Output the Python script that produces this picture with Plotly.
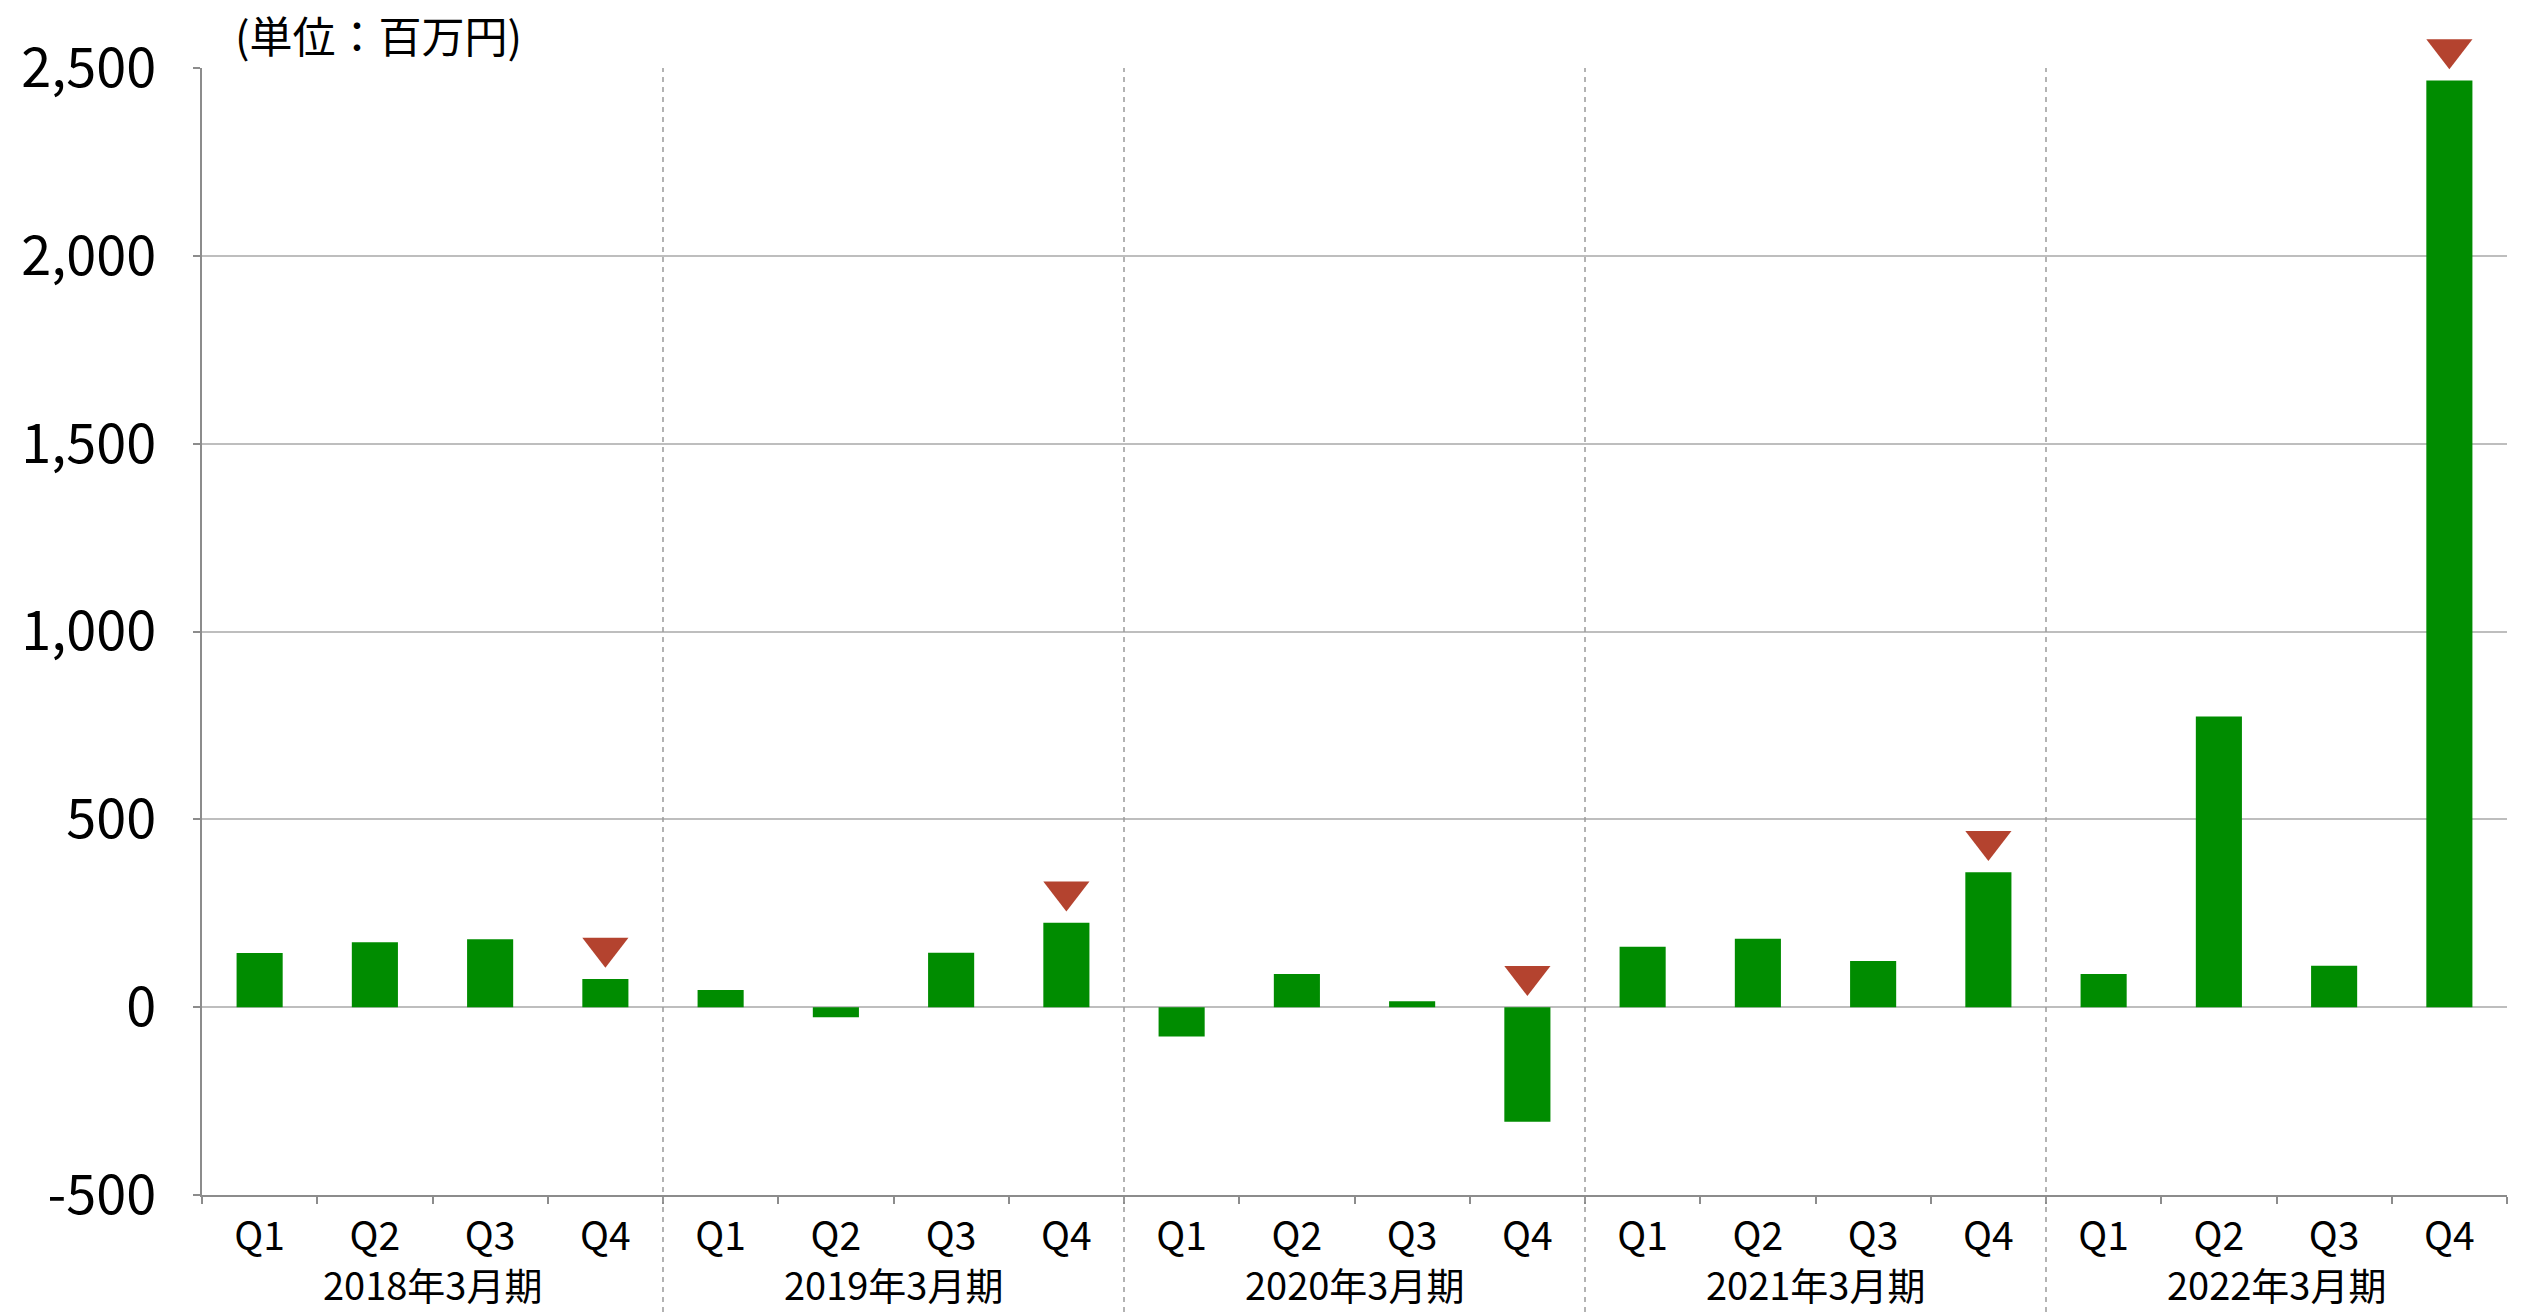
import plotly.graph_objects as go

# ---- data ----
years = ["2018年3月期", "2019年3月期", "2020年3月期", "2021年3月期", "2022年3月期"]
quarters = ["Q1", "Q2", "Q3", "Q4"]
values = [
    144, 173, 181, 75,      # 2018年3月期
    46, -27, 145, 225,      # 2019年3月期
    -78, 88, 16, -305,      # 2020年3月期
    161, 182, 123, 359,     # 2021年3月期
    88, 774, 110, 2467,     # 2022年3月期
]
marked = [
    False, False, False, True,
    False, False, False, True,
    False, False, False, True,
    False, False, False, True,
    False, False, False, True,
]
y_ticks = [-500, 0, 500, 1000, 1500, 2000, 2500]
y_range = [-500, 2500]
unit_label = "(単位：百万円)"

# ---- styles ----
FONT = "Noto Sans CJK JP"
BAR_COLOR = "#008C00"
MARK_COLOR = "#B4432F"
GRID_COLOR = "#BEBEBE"
AXIS_COLOR = "#8C8C8C"
SEP_COLOR = "#9A9A9A"
MARK_OFFSET = 83  # gap above bar (data units)

W, H = 2528, 1312
ML, MR, MT, MB = 202, 21, 20, 117
PLOT_TOP_PX = 68           # pixel row of the top of the value axis
plot_h = H - MT - MB
plot_w = W - ML - MR
dom_top = (H - MB - PLOT_TOP_PX) / plot_h
y2_top = y_range[0] + (y_range[1] - y_range[0]) / dom_top


def py(px):
    """pixel row -> paper y"""
    return (H - MB - px) / plot_h


def pxx(px):
    """pixel column -> paper x"""
    return (px - ML) / plot_w


n = len(values)
xs = list(range(n))
qlabels = [quarters[i % len(quarters)] for i in xs]

fig = go.Figure()
fig.add_trace(go.Bar(
    x=xs, y=values, width=0.4,
    marker=dict(color=BAR_COLOR, line=dict(width=0)),
    showlegend=False, hoverinfo="skip",
))

mx = [x for x, m in zip(xs, marked) if m]
my = [max(v, 0) + MARK_OFFSET for v, m in zip(values, marked) if m]
fig.add_trace(go.Scatter(
    x=mx, y=my, yaxis="y2", mode="markers", cliponaxis=False,
    marker=dict(symbol="triangle-down", size=40, color=MARK_COLOR, line=dict(width=0)),
    showlegend=False, hoverinfo="skip",
))

# dashed group separators
nq = len(quarters)
for g in range(1, len(years)):
    fig.add_shape(
        type="line", xref="x", yref="paper",
        x0=g * nq - 0.5, x1=g * nq - 0.5, y0=py(H), y1=dom_top,
        line=dict(color=SEP_COLOR, width=1.5, dash="5px,5px"),
        layer="above",
    )

# year labels
for g, yr in enumerate(years):
    fig.add_annotation(
        x=g * nq + (nq - 1) / 2, xref="x", y=py(1283), yref="paper",
        text=yr, showarrow=False, yanchor="middle", xanchor="center",
        font=dict(family=FONT, size=38, color="#000"),
    )

fig.add_annotation(
    x=pxx(378), xref="paper", y=py(34), yref="paper",
    text=unit_label, showarrow=False, xanchor="center", yanchor="middle",
    font=dict(family=FONT, size=43, color="#000"),
)

fig.update_layout(
    width=W, height=H,
    margin=dict(l=ML, r=MR, t=MT, b=MB, autoexpand=False),
    paper_bgcolor="white", plot_bgcolor="rgba(0,0,0,0)",
    font=dict(family=FONT, color="#000"),
    xaxis=dict(
        range=[-0.5, n - 0.5], anchor="y",
        tickmode="array", tickvals=xs, ticktext=qlabels,
        ticks="", showgrid=False, zeroline=False,
        showline=True, linecolor=AXIS_COLOR, linewidth=2,
        tickfont=dict(family=FONT, size=39, color="#000"),
        ticklabelstandoff=6,
        minor=dict(tickmode="linear", tick0=-0.5, dtick=1, ticks="outside",
                   ticklen=7, tickwidth=2, tickcolor=AXIS_COLOR, showgrid=False),
        fixedrange=True,
    ),
    yaxis=dict(
        domain=[0, dom_top], anchor="x",
        range=y_range,
        tickmode="array", tickvals=y_ticks,
        ticktext=[f"{v:,}" for v in y_ticks],
        showgrid=True, gridcolor=GRID_COLOR, gridwidth=2,
        zeroline=True, zerolinecolor=GRID_COLOR, zerolinewidth=2,
        showline=True, linecolor=AXIS_COLOR, linewidth=2,
        ticks="outside", ticklen=7, tickwidth=2, tickcolor=AXIS_COLOR,
        tickfont=dict(family=FONT, size=54, color="#000"),
        ticklabelstandoff=26,
        fixedrange=True,
    ),
    yaxis2=dict(
        domain=[0, 1], anchor="x",
        range=[y_range[0], y2_top],
        visible=False, showgrid=False, zeroline=False,
        fixedrange=True,
    ),
)

fig.write_html(
    "out.html",
    config={"displayModeBar": False, "staticPlot": True},
    post_script="document.body.style.margin='0';",
)
